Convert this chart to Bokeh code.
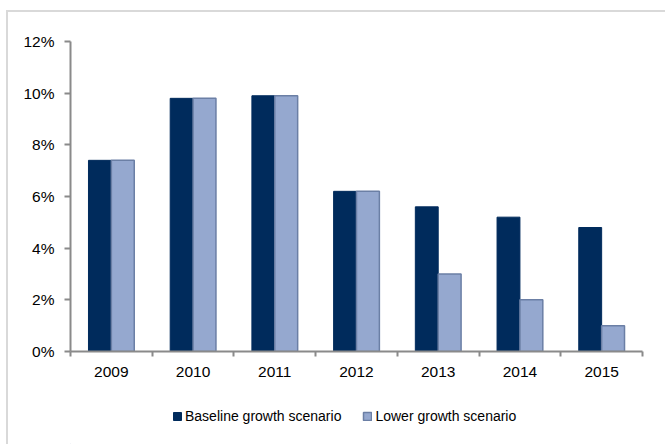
from bokeh.plotting import figure
from bokeh.layouts import column
from bokeh.models import ColumnDataSource, FixedTicker, NumeralTickFormatter, Legend, LegendItem, Range1d
from bokeh.embed import file_html
from bokeh.resources import INLINE

years = ["2009", "2010", "2011", "2012", "2013", "2014", "2015"]
baseline = [7.4, 9.8, 9.9, 6.2, 5.6, 5.2, 4.8]
lower = [7.4, 9.8, 9.9, 6.2, 3.0, 2.0, 1.0]
y_ticks = [0, 2, 4, 6, 8, 10, 12]
series_names = ["Baseline growth scenario", "Lower growth scenario"]

centers = [i + 0.5 for i in range(len(years))]
src = ColumnDataSource(dict(
    xb=[c - 0.14 for c in centers],
    xl=[c + 0.14 for c in centers],
    base=[v / 100 for v in baseline],
    low=[v / 100 for v in lower],
))

OX, OY = 8, 12
W = 665 - OX
MAIN_BOTTOM = 396
FRAME_LEFT = 70
p = figure(width=W, height=MAIN_BOTTOM - OY, output_backend="svg", toolbar_location=None,
           x_range=Range1d(0, len(years)), y_range=Range1d(0, 0.12),
           min_border_left=FRAME_LEFT - OX, min_border_right=23, min_border_top=41 - OY,
           min_border_bottom=MAIN_BOTTOM - 351)

DARK, LIGHT, LIGHT_EDGE = "#002B5C", "#95A8CF", "#6B7FA5"
p.vbar(x="xb", top="base", width=0.28, source=src, fill_color=DARK, line_color=DARK)
p.vbar(x="xl", top="low", width=0.28, source=src, fill_color=LIGHT, line_color=LIGHT_EDGE, line_width=1.5)

p.xgrid.visible = False
p.ygrid.visible = False
p.outline_line_color = None

FONT = "Liberation Sans"
AX = "#8a8a8a"

p.xaxis.ticker = FixedTicker(ticks=centers, minor_ticks=list(range(len(years) + 1)))
p.xaxis.major_label_overrides = {c: y for c, y in zip(centers, years)}
p.xaxis.major_tick_line_color = None
p.xaxis.minor_tick_line_color = AX
p.xaxis.minor_tick_out = 5
p.xaxis.minor_tick_in = 0
p.xaxis.minor_tick_line_width = 2
p.xaxis.axis_line_color = AX
p.xaxis.axis_line_width = 2
p.xaxis.major_label_text_font = FONT
p.xaxis.major_label_text_font_size = "15.5px"
p.xaxis.major_label_text_color = "#000000"
p.xaxis.major_label_standoff = 9

p.yaxis.ticker = FixedTicker(ticks=[t / 100 for t in y_ticks], minor_ticks=[])
p.yaxis.formatter = NumeralTickFormatter(format="0%")
p.yaxis.major_tick_out = 6
p.yaxis.major_tick_in = 0
p.yaxis.major_tick_line_color = AX
p.yaxis.major_tick_line_width = 2
p.yaxis.minor_tick_line_color = None
p.yaxis.axis_line_color = AX
p.yaxis.axis_line_width = 2
p.yaxis.major_label_text_font = FONT
p.yaxis.major_label_text_font_size = "15.5px"
p.yaxis.major_label_text_color = "#000000"
p.yaxis.major_label_standoff = 10

# legend strip
LH = 444 - MAIN_BOTTOM
lf = figure(width=W, height=LH, output_backend="svg", toolbar_location=None,
            x_range=Range1d(0, 1), y_range=Range1d(0, 1),
            x_axis_location=None, y_axis_location=None,
            min_border_left=0, min_border_right=0, min_border_top=0, min_border_bottom=0)
lf.grid.visible = False
lf.outline_line_color = None
e1 = lf.vbar(x=[-10], top=[-10], width=0.1, fill_color=DARK, line_color=DARK)
e2 = lf.vbar(x=[-10], top=[-10], width=0.1, fill_color=LIGHT, line_color=LIGHT_EDGE, line_width=1.5)
legend = Legend(items=[LegendItem(label=series_names[0], renderers=[e1]),
                       LegendItem(label=series_names[1], renderers=[e2])],
                orientation="horizontal", location=(172 - FRAME_LEFT, LH - (417 - MAIN_BOTTOM) - 7),
                glyph_width=10, glyph_height=10, label_height=14, label_standoff=3,
                spacing=21, padding=0, margin=0, border_line_color=None,
                background_fill_alpha=0, label_text_font=FONT, label_text_font_size="14px",
                label_text_color="#000000")
lf.add_layout(legend, "center")

layout = column(p, lf, spacing=0,
                styles={"border-top": "2px solid #d9d9d9", "border-left": "2px solid #d9d9d9",
                        "margin-left": "6px", "margin-top": "10px"})

open("out.html", "w").write(file_html(layout, INLINE))
